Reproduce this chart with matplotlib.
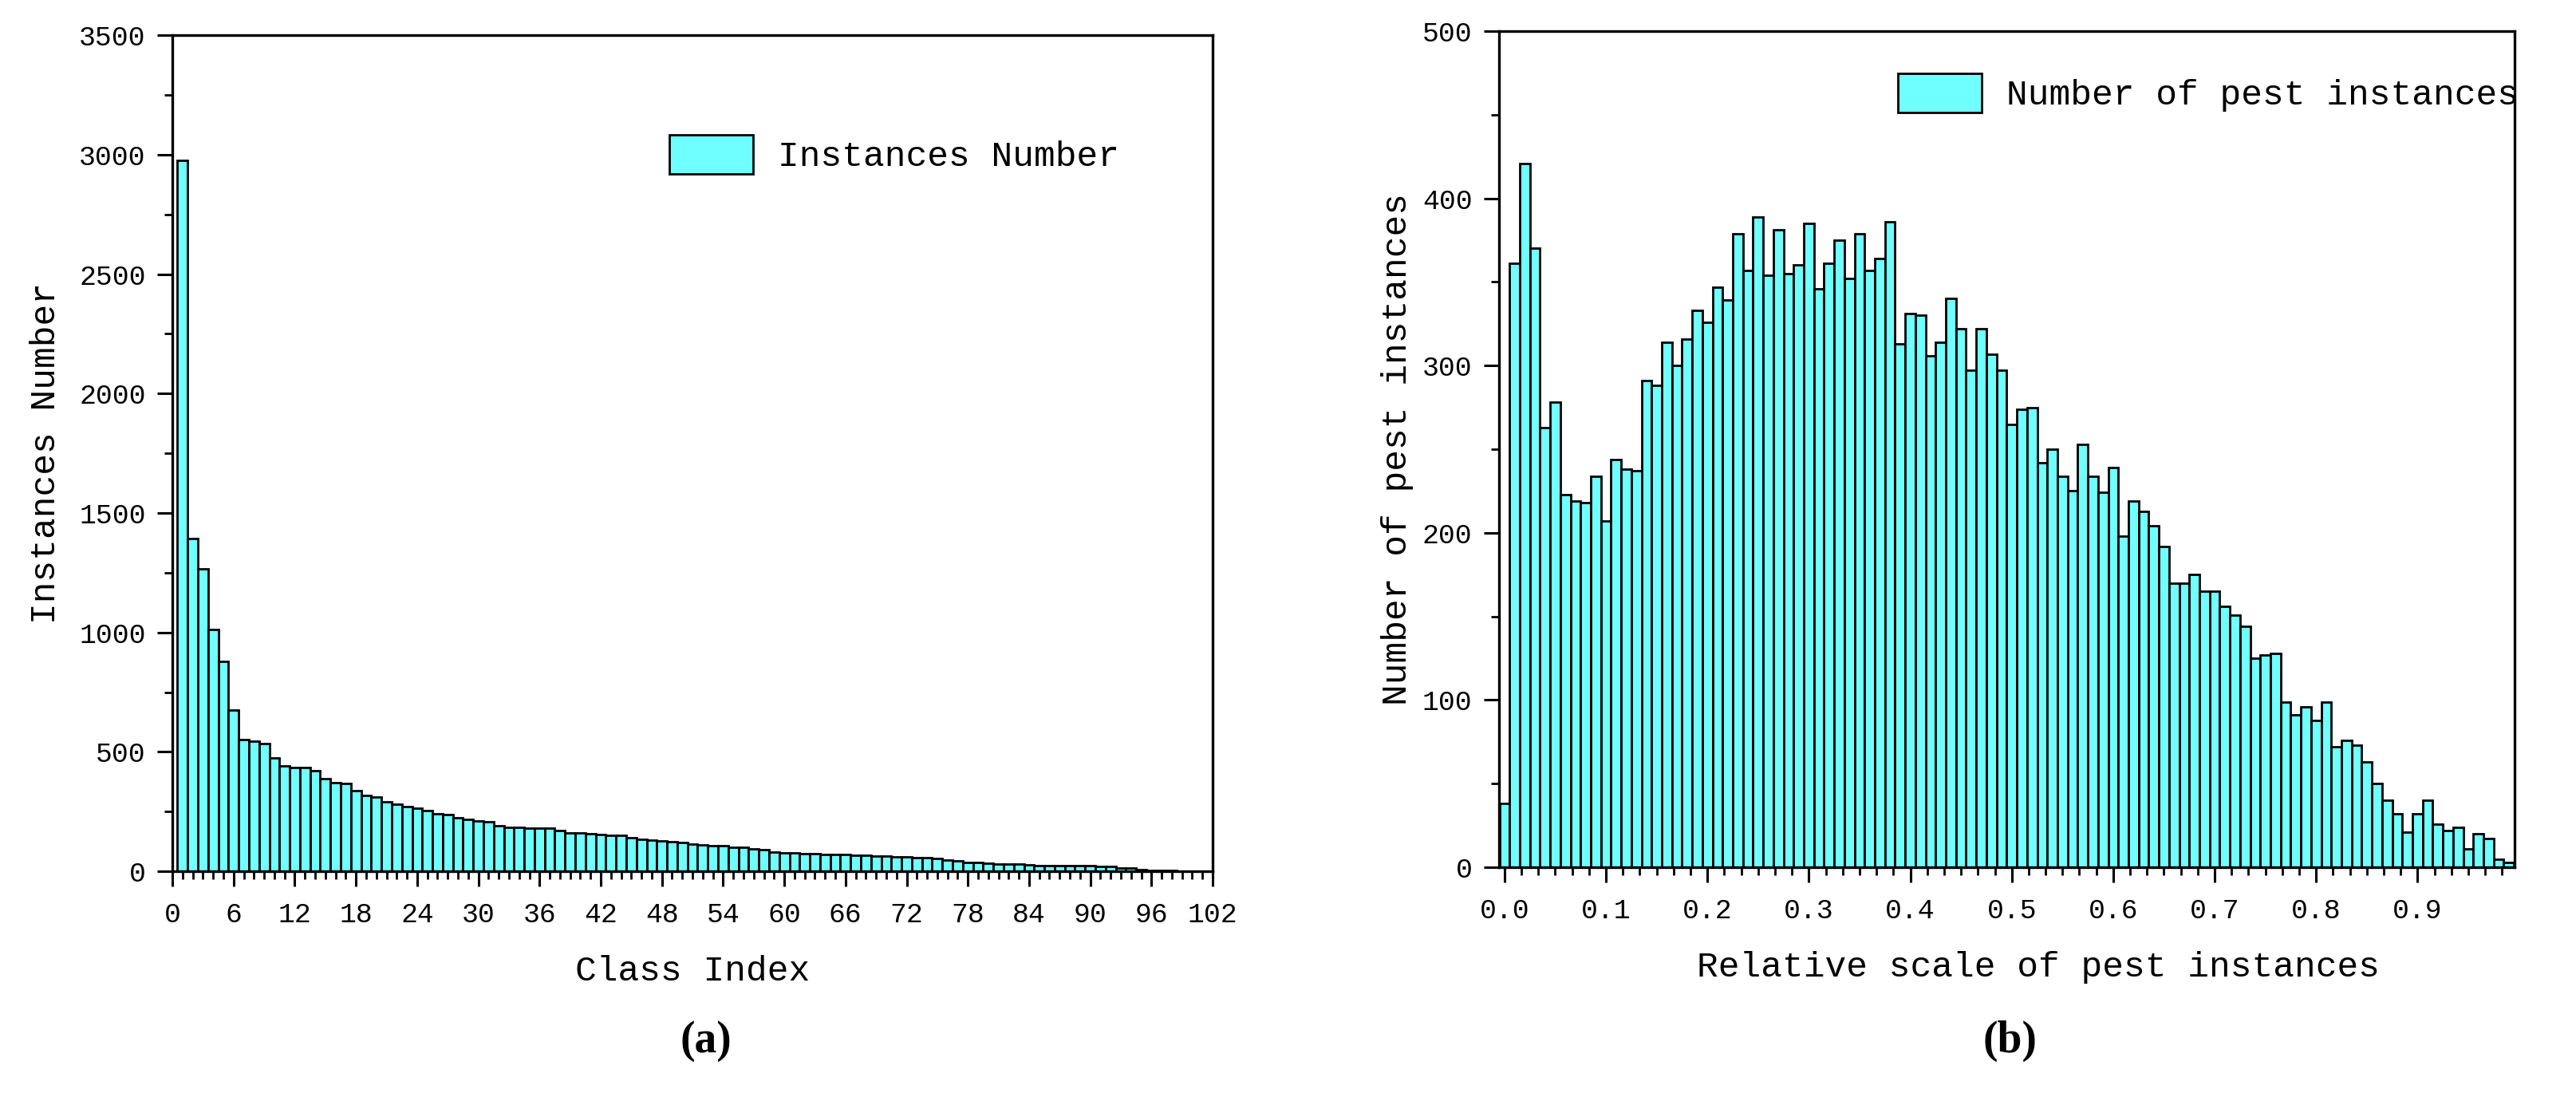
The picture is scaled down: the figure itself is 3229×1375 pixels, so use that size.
import numpy as np
import matplotlib
matplotlib.use("Agg")
from matplotlib import pyplot as plt
from matplotlib.patches import Patch
from matplotlib.ticker import MultipleLocator, AutoMinorLocator, FormatStrFormatter

# (a) number of instances for each of the 102 classes
class_index = np.arange(1, 103)
instances = [2975, 1394, 1267, 1011, 878, 676, 552, 546, 533, 476,
             440, 436, 436, 421, 386, 371, 366, 338, 319, 311,
             291, 281, 269, 265, 255, 240, 236, 224, 216, 209,
             207, 191, 185, 185, 180, 180, 180, 170, 162, 162,
             157, 154, 152, 149, 142, 135, 131, 128, 125, 119,
             115, 110, 108, 106, 101, 99, 93, 90, 80, 78,
             76, 73, 72, 71, 70, 69, 67, 66, 65, 64,
             60, 59, 58, 57, 53, 46, 44, 38, 36, 35,
             31, 30, 29, 28, 25, 24, 24, 23, 23, 22,
             21, 20, 13, 12, 8, 5, 4, 2, 1, 1, 1, 1]

# (b) histogram of relative scale, bins of 0.01
bin_width = 0.01
scale_bins = np.round(np.arange(100) * bin_width, 2)
scale_counts = [38, 361, 421, 370, 263, 278, 223, 219, 218, 234,
                207, 244, 238, 237, 291, 288, 314, 300, 316, 333,
                326, 347, 339, 379, 357, 389, 354, 381, 355, 360,
                385, 346, 361, 375, 352, 379, 357, 364, 386, 313,
                331, 330, 306, 314, 340, 322, 297, 322, 307, 297,
                265, 274, 275, 242, 250, 234, 225, 253, 234, 224,
                239, 198, 219, 213, 204, 192, 170, 170, 175, 165,
                165, 156, 151, 144, 125, 127, 128, 99, 91, 96,
                88, 99, 72, 76, 73, 63, 50, 40, 32, 21,
                32, 40, 26, 22, 24, 11, 20, 17, 5, 3]

cyan = "#70FFFF"
plt.rcParams["font.family"] = ["Liberation Mono", "DejaVu Sans Mono"]

fig = plt.figure(figsize=(32.3, 13.75), dpi=100)
ax1 = fig.add_axes([0.0669, 0.2058, 0.4037, 0.762])
ax2 = fig.add_axes([0.5817, 0.2094, 0.3941, 0.7623])


def style(ax):
    for sp in ax.spines.values():
        sp.set_linewidth(2.4)
    ax.tick_params(which="major", direction="out", length=14, width=2.2,
                   labelsize=25, pad=10, top=False, right=False)
    ax.tick_params(axis="x", which="major", pad=13)
    ax.tick_params(which="minor", direction="out", length=7, width=2.0,
                   top=False, right=False)


ax1.bar(class_index, instances, width=1.0, color=cyan, edgecolor="black", linewidth=2)
ax1.set_xlim(0, 102)
ax1.set_ylim(0, 3500)
ax1.xaxis.set_major_locator(MultipleLocator(6))
ax1.xaxis.set_minor_locator(MultipleLocator(1))
ax1.yaxis.set_major_locator(MultipleLocator(500))
ax1.yaxis.set_minor_locator(MultipleLocator(250))
style(ax1)
ax1.set_xlabel("Class Index", fontsize=32)
ax1.set_ylabel("Instances Number", fontsize=32)
ax1.xaxis.set_label_coords(0.5, -0.100)
ax1.yaxis.set_label_coords(-0.106, 0.5)
ax1.legend(handles=[Patch(facecolor=cyan, edgecolor="black", linewidth=2, label="Instances Number")],
           loc="upper left", bbox_to_anchor=(0.2529, 0.893), bbox_transform=fig.transFigure,
           frameon=False, fontsize=32, borderpad=0, handlelength=2.36, handleheight=1.3,
           handletextpad=0.7)

ax2.bar(scale_bins, scale_counts, width=bin_width, color=cyan, edgecolor="black", linewidth=2)
ax2.set_xlim(-0.0055, 0.9955)
ax2.set_ylim(0, 500)
ax2.xaxis.set_major_locator(MultipleLocator(0.1))
ax2.xaxis.set_minor_locator(AutoMinorLocator(6))
ax2.xaxis.set_major_formatter(FormatStrFormatter("%.1f"))
ax2.yaxis.set_major_locator(MultipleLocator(100))
ax2.yaxis.set_minor_locator(MultipleLocator(50))
style(ax2)
ax2.set_xlabel("Relative scale of pest instances", fontsize=32)
ax2.set_ylabel("Number of pest instances", fontsize=32)
ax2.xaxis.set_label_coords(0.531, -0.100)
ax2.yaxis.set_label_coords(-0.084, 0.5)
ax2.legend(handles=[Patch(facecolor=cyan, edgecolor="black", linewidth=2, label="Number of pest instances")],
           loc="upper left", bbox_to_anchor=(0.7297, 0.949), bbox_transform=fig.transFigure,
           frameon=False, fontsize=32, borderpad=0, handlelength=2.36, handleheight=1.3,
           handletextpad=0.7)

fig.text(0.274, 0.051, "(a)", fontsize=40, fontweight="bold", family="Liberation Serif",
         ha="center", va="center")
fig.text(0.780, 0.051, "(b)", fontsize=40, fontweight="bold", family="Liberation Serif",
         ha="center", va="center")

fig.savefig("out.png", dpi=100)
